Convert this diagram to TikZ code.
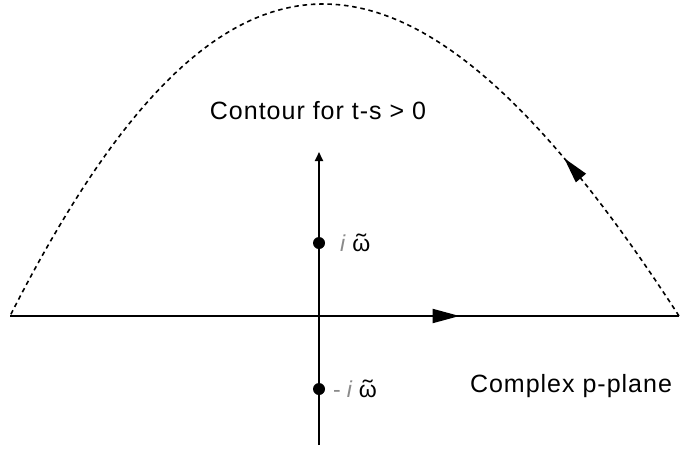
\documentclass[tikz,border=0pt]{standalone}
\usepackage{fontspec}
\setmainfont{Liberation Sans}
\newfontfamily\capfont[LetterSpace=4]{Liberation Sans}
\usetikzlibrary{arrows.meta,positioning,decorations.markings}
\definecolor{labelgray}{HTML}{8A8A8A}
\newcommand{\tomega}{\ooalign{ω\cr\hidewidth\raisebox{0.02em}{\scalebox{1.3}[1]{˜}}\hidewidth\cr}}

\begin{document}
\begin{tikzpicture}[x=1pt,y=-1pt,
  axis/.style={line width=2pt,black},
  contour/.style={line width=1.6pt,dash pattern=on 4.5pt off 3.8pt},
  pole/.style={circle,fill=black,inner sep=0pt,minimum size=12pt},
  caption/.style={font=\capfont\fontsize{25}{29}\selectfont,inner sep=0pt},
  polelabel/.style={font=\fontsize{23}{27}\selectfont,inner sep=0pt,anchor=west}]
\useasboundingbox (0,0) rectangle (680,450);
\coordinate (L) at (10,316);
\coordinate (R) at (679,316);
\coordinate (B) at (319,445);
\coordinate (T) at (319,152);
\coordinate (c1) at (410,-100);
\coordinate (c2) at (222,-100);
% real axis with arrow part way
\draw[axis,postaction={decorate},decoration={markings,
  mark=at position 0.672 with {\arrow{Triangle[length=27pt,width=14pt]}}}] (L) -- (R);
% imaginary axis
\draw[axis,-{Triangle[length=9pt,width=8pt]}] (B) -- (T);
% closing arc, run from right to left
\draw[contour,postaction={decorate},decoration={markings,
  mark=at position 0.205 with {\arrow{Triangle[length=26pt,width=13pt]}}}] (R) .. controls (c1) and (c2) .. (L);
\node[pole] (pu) at (319,243) {};
\node[pole] (pd) at (319,389) {};
\node[polelabel,right=21pt of pu.center] (lu) {\textcolor{labelgray}{\itshape i}\hspace{7pt}\tomega};
\node[polelabel,right=14pt of pd.center] (ld) {\textcolor{labelgray}{-\hspace{6pt}\itshape i}\hspace{7pt}\tomega};
\node[caption] (title) at (318,111) {Contour for t-s > 0};
\node[caption] (plane) at (571,386) {Complex p-plane};
\end{tikzpicture}
\end{document}
